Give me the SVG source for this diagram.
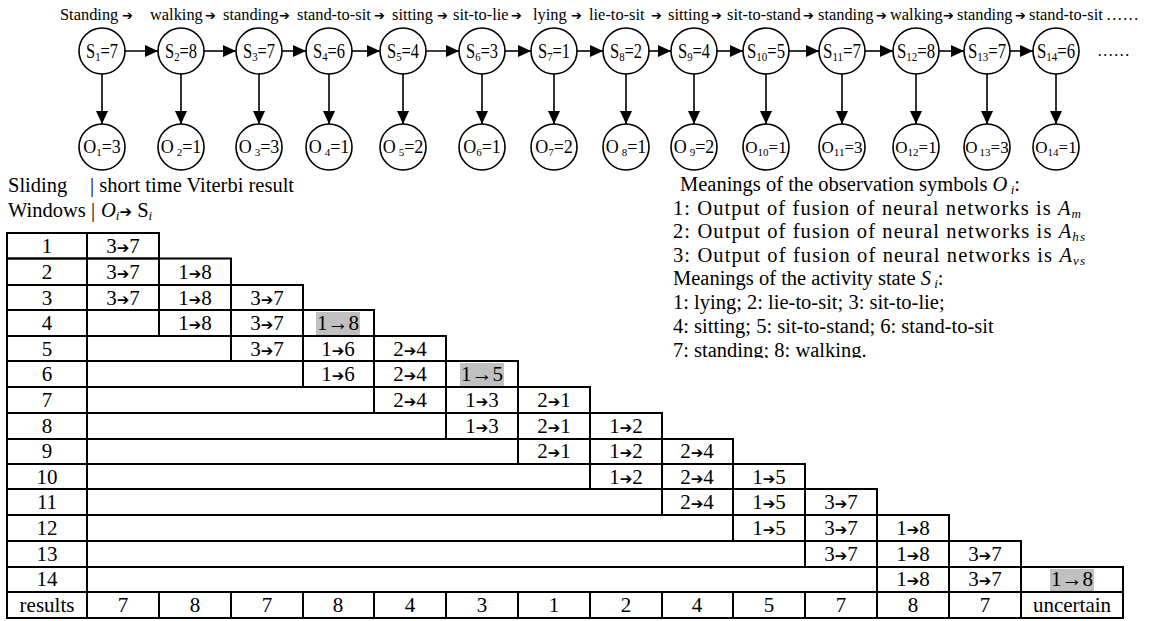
<svg xmlns="http://www.w3.org/2000/svg" width="1165" height="621" viewBox="0 0 1165 621">
<style>
text{font-family:"Liberation Serif","Times New Roman",serif;fill:#000}
.top{font-size:16.4px}
.ar{font-family:"DejaVu Sans",sans-serif;font-size:13px}
.tar{font-family:"DejaVu Sans",sans-serif;font-size:15px}
.node circle{fill:#fff;stroke:#000;stroke-width:1.6}
.nl{font-size:20px;text-anchor:middle}
.ol{font-size:18px;text-anchor:middle}
.ol2{font-size:17px;text-anchor:middle}
.sub{font-size:13px}
.sub2{font-size:11px}
.edge{stroke:#000;stroke-width:1.6;fill:none}
.tb{fill:none;stroke:#000;stroke-width:2}
.tl{stroke:#000;stroke-width:2}
.tt{font-size:21px;text-anchor:middle}
.lg{font-size:20.5px}
.hl{fill:#c0c0c0}
.it{font-style:italic}
.ls{font-size:13px}
</style>
<defs>
<marker id="ah" markerWidth="13" markerHeight="12" refX="13" refY="6" orient="auto" markerUnits="userSpaceOnUse"><path d="M0,0 L13,6 L0,12 z" fill="#000"/></marker>
<clipPath id="lgclip"><rect x="600" y="160" width="565" height="198"/></clipPath>
</defs>

<text class="top" y="20"><tspan x="60">Standing</tspan><tspan class="ar" x="122">➔</tspan><tspan x="150">walking</tspan><tspan class="ar" x="205">➔</tspan><tspan x="223">standing</tspan><tspan class="ar" x="279">➔</tspan><tspan x="297">stand-to-sit</tspan><tspan class="ar" x="374">➔</tspan><tspan x="392">sitting</tspan><tspan class="ar" x="437">➔</tspan><tspan x="453">sit-to-lie</tspan><tspan class="ar" x="511">➔</tspan><tspan x="533">lying</tspan><tspan class="ar" x="571">➔</tspan><tspan x="589">lie-to-sit</tspan><tspan class="ar" x="651">➔</tspan><tspan x="668">sitting</tspan><tspan class="ar" x="711">➔</tspan><tspan x="727">sit-to-stand</tspan><tspan class="ar" x="803">➔</tspan><tspan x="818">standing</tspan><tspan class="ar" x="876">➔</tspan><tspan x="890">walking</tspan><tspan class="ar" x="943">➔</tspan><tspan x="957">standing</tspan><tspan class="ar" x="1015">➔</tspan><tspan x="1029">stand-to-sit</tspan><tspan x="1106">……</tspan></text>

<g id="connectors">
<line class="edge" x1="125" y1="51" x2="158" y2="51" marker-end="url(#ah)"/>
<line class="edge" x1="204" y1="51" x2="236" y2="51" marker-end="url(#ah)"/>
<line class="edge" x1="282" y1="51" x2="306" y2="51" marker-end="url(#ah)"/>
<line class="edge" x1="352" y1="51" x2="380" y2="51" marker-end="url(#ah)"/>
<line class="edge" x1="426" y1="51" x2="459" y2="51" marker-end="url(#ah)"/>
<line class="edge" x1="505" y1="51" x2="531" y2="51" marker-end="url(#ah)"/>
<line class="edge" x1="577" y1="51" x2="603" y2="51" marker-end="url(#ah)"/>
<line class="edge" x1="649" y1="51" x2="671" y2="51" marker-end="url(#ah)"/>
<line class="edge" x1="717" y1="51" x2="743" y2="51" marker-end="url(#ah)"/>
<line class="edge" x1="789" y1="51" x2="819" y2="51" marker-end="url(#ah)"/>
<line class="edge" x1="865" y1="51" x2="893" y2="51" marker-end="url(#ah)"/>
<line class="edge" x1="939" y1="51" x2="964" y2="51" marker-end="url(#ah)"/>
<line class="edge" x1="1010" y1="51" x2="1033" y2="51" marker-end="url(#ah)"/>
<line class="edge" x1="102" y1="74" x2="102" y2="124" marker-end="url(#ah)"/>
<line class="edge" x1="181" y1="74" x2="181" y2="124" marker-end="url(#ah)"/>
<line class="edge" x1="259" y1="74" x2="259" y2="124" marker-end="url(#ah)"/>
<line class="edge" x1="329" y1="74" x2="329" y2="124" marker-end="url(#ah)"/>
<line class="edge" x1="403" y1="74" x2="403" y2="124" marker-end="url(#ah)"/>
<line class="edge" x1="482" y1="74" x2="482" y2="124" marker-end="url(#ah)"/>
<line class="edge" x1="554" y1="74" x2="554" y2="124" marker-end="url(#ah)"/>
<line class="edge" x1="626" y1="74" x2="626" y2="124" marker-end="url(#ah)"/>
<line class="edge" x1="694" y1="74" x2="694" y2="124" marker-end="url(#ah)"/>
<line class="edge" x1="766" y1="74" x2="766" y2="124" marker-end="url(#ah)"/>
<line class="edge" x1="842" y1="74" x2="842" y2="124" marker-end="url(#ah)"/>
<line class="edge" x1="916" y1="74" x2="916" y2="124" marker-end="url(#ah)"/>
<line class="edge" x1="987" y1="74" x2="987" y2="124" marker-end="url(#ah)"/>
<line class="edge" x1="1056" y1="74" x2="1056" y2="124" marker-end="url(#ah)"/>
</g>

<g id="s1" class="node"><circle cx="102" cy="51" r="23"/><text class="nl" x="102" y="58" textLength="32" lengthAdjust="spacingAndGlyphs">S<tspan class="sub" dy="3">1</tspan><tspan dy="-3">=7</tspan></text></g>
<g id="s2" class="node"><circle cx="181" cy="51" r="23"/><text class="nl" x="181" y="58" textLength="32" lengthAdjust="spacingAndGlyphs">S<tspan class="sub" dy="3">2</tspan><tspan dy="-3">=8</tspan></text></g>
<g id="s3" class="node"><circle cx="259" cy="51" r="23"/><text class="nl" x="259" y="58" textLength="32" lengthAdjust="spacingAndGlyphs">S<tspan class="sub" dy="3">3</tspan><tspan dy="-3">=7</tspan></text></g>
<g id="s4" class="node"><circle cx="329" cy="51" r="23"/><text class="nl" x="329" y="58" textLength="32" lengthAdjust="spacingAndGlyphs">S<tspan class="sub" dy="3">4</tspan><tspan dy="-3">=6</tspan></text></g>
<g id="s5" class="node"><circle cx="403" cy="51" r="23"/><text class="nl" x="403" y="58" textLength="32" lengthAdjust="spacingAndGlyphs">S<tspan class="sub" dy="3">5</tspan><tspan dy="-3">=4</tspan></text></g>
<g id="s6" class="node"><circle cx="482" cy="51" r="23"/><text class="nl" x="482" y="58" textLength="32" lengthAdjust="spacingAndGlyphs">S<tspan class="sub" dy="3">6</tspan><tspan dy="-3">=3</tspan></text></g>
<g id="s7" class="node"><circle cx="554" cy="51" r="23"/><text class="nl" x="554" y="58" textLength="32" lengthAdjust="spacingAndGlyphs">S<tspan class="sub" dy="3">7</tspan><tspan dy="-3">=1</tspan></text></g>
<g id="s8" class="node"><circle cx="626" cy="51" r="23"/><text class="nl" x="626" y="58" textLength="32" lengthAdjust="spacingAndGlyphs">S<tspan class="sub" dy="3">8</tspan><tspan dy="-3">=2</tspan></text></g>
<g id="s9" class="node"><circle cx="694" cy="51" r="23"/><text class="nl" x="694" y="58" textLength="32" lengthAdjust="spacingAndGlyphs">S<tspan class="sub" dy="3">9</tspan><tspan dy="-3">=4</tspan></text></g>
<g id="s10" class="node"><circle cx="766" cy="51" r="23"/><text class="nl" x="766" y="58" textLength="38" lengthAdjust="spacingAndGlyphs">S<tspan class="sub" dy="3">10</tspan><tspan dy="-3">=5</tspan></text></g>
<g id="s11" class="node"><circle cx="842" cy="51" r="23"/><text class="nl" x="842" y="58" textLength="38" lengthAdjust="spacingAndGlyphs">S<tspan class="sub" dy="3">11</tspan><tspan dy="-3">=7</tspan></text></g>
<g id="s12" class="node"><circle cx="916" cy="51" r="23"/><text class="nl" x="916" y="58" textLength="38" lengthAdjust="spacingAndGlyphs">S<tspan class="sub" dy="3">12</tspan><tspan dy="-3">=8</tspan></text></g>
<g id="s13" class="node"><circle cx="987" cy="51" r="23"/><text class="nl" x="987" y="58" textLength="38" lengthAdjust="spacingAndGlyphs">S<tspan class="sub" dy="3">13</tspan><tspan dy="-3">=7</tspan></text></g>
<g id="s14" class="node"><circle cx="1056" cy="51" r="23"/><text class="nl" x="1056" y="58" textLength="38" lengthAdjust="spacingAndGlyphs">S<tspan class="sub" dy="3">14</tspan><tspan dy="-3">=6</tspan></text></g>
<text class="top" x="1097" y="56">……</text>

<g id="o1" class="node"><circle cx="102" cy="147" r="23"/><text class="ol" x="102" y="153">O<tspan class="sub2" dy="3">1</tspan><tspan dy="-3">=3</tspan></text></g>
<g id="o2" class="node"><circle cx="181" cy="147" r="23"/><text class="ol" x="181" y="153">O<tspan class="sub2" dx="3" dy="3">2</tspan><tspan dy="-3">=1</tspan></text></g>
<g id="o3" class="node"><circle cx="259" cy="147" r="23"/><text class="ol" x="259" y="153">O<tspan class="sub2" dx="3" dy="3">3</tspan><tspan dy="-3">=3</tspan></text></g>
<g id="o4" class="node"><circle cx="329" cy="147" r="23"/><text class="ol" x="329" y="153">O<tspan class="sub2" dx="3" dy="3">4</tspan><tspan dy="-3">=1</tspan></text></g>
<g id="o5" class="node"><circle cx="403" cy="147" r="23"/><text class="ol" x="403" y="153">O<tspan class="sub2" dx="3" dy="3">5</tspan><tspan dy="-3">=2</tspan></text></g>
<g id="o6" class="node"><circle cx="482" cy="147" r="23"/><text class="ol" x="482" y="153">O<tspan class="sub2" dy="3">6</tspan><tspan dy="-3">=1</tspan></text></g>
<g id="o7" class="node"><circle cx="554" cy="147" r="23"/><text class="ol" x="554" y="153">O<tspan class="sub2" dy="3">7</tspan><tspan dy="-3">=2</tspan></text></g>
<g id="o8" class="node"><circle cx="626" cy="147" r="23"/><text class="ol" x="626" y="153">O<tspan class="sub2" dx="3" dy="3">8</tspan><tspan dy="-3">=1</tspan></text></g>
<g id="o9" class="node"><circle cx="694" cy="147" r="23"/><text class="ol" x="694" y="153">O<tspan class="sub2" dx="3" dy="3">9</tspan><tspan dy="-3">=2</tspan></text></g>
<g id="o10" class="node"><circle cx="766" cy="147" r="23"/><text class="ol2" x="766" y="153">O<tspan class="sub2" dy="3">10</tspan><tspan dy="-3">=1</tspan></text></g>
<g id="o11" class="node"><circle cx="842" cy="147" r="23"/><text class="ol2" x="842" y="153">O<tspan class="sub2" dy="3">11</tspan><tspan dy="-3">=3</tspan></text></g>
<g id="o12" class="node"><circle cx="916" cy="147" r="23"/><text class="ol2" x="916" y="153">O<tspan class="sub2" dy="3">12</tspan><tspan dy="-3">=1</tspan></text></g>
<g id="o13" class="node"><circle cx="987" cy="147" r="23"/><text class="ol2" x="987" y="153">O<tspan class="sub2" dx="2" dy="3">13</tspan><tspan dy="-3">=3</tspan></text></g>
<g id="o14" class="node"><circle cx="1056" cy="147" r="23"/><text class="ol2" x="1056" y="153">O<tspan class="sub2" dy="3">14</tspan><tspan dy="-3">=1</tspan></text></g>

<g id="header">
<text class="lg" x="8" y="192">Sliding</text>
<text class="lg" x="90" y="192">| short time Viterbi result</text>
<text class="lg" x="8" y="217">Windows |<tspan class="it" x="101">O</tspan><tspan class="it ls" dy="3">i</tspan><tspan class="tar" dy="-3">➔</tspan><tspan> S</tspan><tspan class="it ls" dy="3">i</tspan></text>
</g>

<g id="legend" clip-path="url(#lgclip)">
<text class="lg" x="680" y="191">Meanings of the observation symbols <tspan class="it">O</tspan><tspan class="it ls" dy="3"> i</tspan><tspan dy="-3">:</tspan></text>
<text class="lg" x="673" y="214.5" textLength="408" lengthAdjust="spacing">1: Output of fusion of neural networks is <tspan class="it">A</tspan><tspan class="it ls" dy="3">m</tspan></text>
<text class="lg" x="673" y="238" textLength="412" lengthAdjust="spacing">2: Output of fusion of neural networks is <tspan class="it">A</tspan><tspan class="it ls" dy="3">hs</tspan></text>
<text class="lg" x="673" y="261.5" textLength="412" lengthAdjust="spacing">3: Output of fusion of neural networks is <tspan class="it">A</tspan><tspan class="it ls" dy="3">vs</tspan></text>
<text class="lg" x="673" y="285">Meanings of the activity state <tspan class="it">S</tspan><tspan class="it ls" dy="3"> i</tspan><tspan dy="-3">:</tspan></text>
<text class="lg" x="673" y="309">1: lying; 2: lie-to-sit; 3: sit-to-lie;</text>
<text class="lg" x="673" y="333">4: sitting; 5: sit-to-stand; 6: stand-to-sit</text>
<text class="lg" x="673" y="357">7: standing; 8: walking.</text>
</g>

<g id="table">
<rect class="hl" x="316" y="312" width="44" height="23"/>
<rect class="hl" x="460" y="363" width="44" height="23"/>
<rect class="hl" x="1050" y="569" width="44" height="22"/>

<rect class="tb" x="7" y="233" width="152" height="25.5"/>
<line class="tl" x1="87" y1="233" x2="87" y2="618"/>
<rect class="tb" x="7" y="258.5" width="224" height="26.5"/>
<line class="tl" x1="159" y1="258.5" x2="159" y2="285"/>
<rect class="tb" x="7" y="285" width="296" height="25"/>
<line class="tl" x1="159" y1="285" x2="159" y2="336"/>
<line class="tl" x1="231" y1="285" x2="231" y2="361"/>
<rect class="tb" x="7" y="310" width="367" height="26"/>
<line class="tl" x1="303" y1="310" x2="303" y2="387"/>
<rect class="tb" x="7" y="336" width="439" height="25"/>
<line class="tl" x1="374" y1="336" x2="374" y2="413"/>
<rect class="tb" x="7" y="361" width="511" height="26"/>
<line class="tl" x1="446" y1="361" x2="446" y2="439"/>
<rect class="tb" x="7" y="387" width="583" height="26"/>
<line class="tl" x1="518" y1="387" x2="518" y2="464"/>
<rect class="tb" x="7" y="413" width="655" height="26"/>
<line class="tl" x1="590" y1="413" x2="590" y2="489"/>
<rect class="tb" x="7" y="439" width="726" height="25"/>
<line class="tl" x1="662" y1="439" x2="662" y2="515"/>
<rect class="tb" x="7" y="464" width="798" height="25"/>
<line class="tl" x1="733" y1="464" x2="733" y2="541"/>
<rect class="tb" x="7" y="489" width="870" height="26"/>
<line class="tl" x1="805" y1="489" x2="805" y2="567"/>
<rect class="tb" x="7" y="515" width="942" height="26"/>
<line class="tl" x1="877" y1="515" x2="877" y2="592"/>
<rect class="tb" x="7" y="541" width="1014" height="26"/>
<line class="tl" x1="949" y1="541" x2="949" y2="592"/>
<rect class="tb" x="7" y="567" width="1116" height="25"/>
<line class="tl" x1="1021" y1="567" x2="1021" y2="592"/>
<rect class="tb" x="7" y="592" width="1116" height="26"/>
<line class="tl" x1="159" y1="592" x2="159" y2="618"/>
<line class="tl" x1="231" y1="592" x2="231" y2="618"/>
<line class="tl" x1="303" y1="592" x2="303" y2="618"/>
<line class="tl" x1="374" y1="592" x2="374" y2="618"/>
<line class="tl" x1="446" y1="592" x2="446" y2="618"/>
<line class="tl" x1="518" y1="592" x2="518" y2="618"/>
<line class="tl" x1="590" y1="592" x2="590" y2="618"/>
<line class="tl" x1="662" y1="592" x2="662" y2="618"/>
<line class="tl" x1="733" y1="592" x2="733" y2="618"/>
<line class="tl" x1="805" y1="592" x2="805" y2="618"/>
<line class="tl" x1="877" y1="592" x2="877" y2="618"/>
<line class="tl" x1="949" y1="592" x2="949" y2="618"/>
<line class="tl" x1="1021" y1="592" x2="1021" y2="618"/>

<text class="tt" x="47" y="253">1</text>
<text class="tt" x="123" y="253">3<tspan class="tar">➔</tspan>7</text>
<text class="tt" x="47" y="279">2</text>
<text class="tt" x="123" y="279">3<tspan class="tar">➔</tspan>7</text>
<text class="tt" x="195" y="279">1<tspan class="tar">➔</tspan>8</text>
<text class="tt" x="47" y="305">3</text>
<text class="tt" x="123" y="305">3<tspan class="tar">➔</tspan>7</text>
<text class="tt" x="195" y="305">1<tspan class="tar">➔</tspan>8</text>
<text class="tt" x="267" y="305">3<tspan class="tar">➔</tspan>7</text>
<text class="tt" x="47" y="330">4</text>
<text class="tt" x="195" y="330">1<tspan class="tar">➔</tspan>8</text>
<text class="tt" x="267" y="330">3<tspan class="tar">➔</tspan>7</text>
<text class="tt" x="338" y="330">1→8</text>
<text class="tt" x="47" y="356">5</text>
<text class="tt" x="267" y="356">3<tspan class="tar">➔</tspan>7</text>
<text class="tt" x="338" y="356">1<tspan class="tar">➔</tspan>6</text>
<text class="tt" x="410" y="356">2<tspan class="tar">➔</tspan>4</text>
<text class="tt" x="47" y="381">6</text>
<text class="tt" x="338" y="381">1<tspan class="tar">➔</tspan>6</text>
<text class="tt" x="410" y="381">2<tspan class="tar">➔</tspan>4</text>
<text class="tt" x="482" y="381">1→5</text>
<text class="tt" x="47" y="407">7</text>
<text class="tt" x="410" y="407">2<tspan class="tar">➔</tspan>4</text>
<text class="tt" x="482" y="407">1<tspan class="tar">➔</tspan>3</text>
<text class="tt" x="554" y="407">2<tspan class="tar">➔</tspan>1</text>
<text class="tt" x="47" y="433">8</text>
<text class="tt" x="482" y="433">1<tspan class="tar">➔</tspan>3</text>
<text class="tt" x="554" y="433">2<tspan class="tar">➔</tspan>1</text>
<text class="tt" x="626" y="433">1<tspan class="tar">➔</tspan>2</text>
<text class="tt" x="47" y="458">9</text>
<text class="tt" x="554" y="458">2<tspan class="tar">➔</tspan>1</text>
<text class="tt" x="626" y="458">1<tspan class="tar">➔</tspan>2</text>
<text class="tt" x="697" y="458">2<tspan class="tar">➔</tspan>4</text>
<text class="tt" x="47" y="484">10</text>
<text class="tt" x="626" y="484">1<tspan class="tar">➔</tspan>2</text>
<text class="tt" x="697" y="484">2<tspan class="tar">➔</tspan>4</text>
<text class="tt" x="769" y="484">1<tspan class="tar">➔</tspan>5</text>
<text class="tt" x="47" y="509">11</text>
<text class="tt" x="697" y="509">2<tspan class="tar">➔</tspan>4</text>
<text class="tt" x="769" y="509">1<tspan class="tar">➔</tspan>5</text>
<text class="tt" x="841" y="509">3<tspan class="tar">➔</tspan>7</text>
<text class="tt" x="47" y="535">12</text>
<text class="tt" x="769" y="535">1<tspan class="tar">➔</tspan>5</text>
<text class="tt" x="841" y="535">3<tspan class="tar">➔</tspan>7</text>
<text class="tt" x="913" y="535">1<tspan class="tar">➔</tspan>8</text>
<text class="tt" x="47" y="561">13</text>
<text class="tt" x="841" y="561">3<tspan class="tar">➔</tspan>7</text>
<text class="tt" x="913" y="561">1<tspan class="tar">➔</tspan>8</text>
<text class="tt" x="985" y="561">3<tspan class="tar">➔</tspan>7</text>
<text class="tt" x="47" y="586">14</text>
<text class="tt" x="913" y="586">1<tspan class="tar">➔</tspan>8</text>
<text class="tt" x="985" y="586">3<tspan class="tar">➔</tspan>7</text>
<text class="tt" x="1072" y="586">1→8</text>
<text class="tt" x="47" y="612">results</text>
<text class="tt" x="123" y="612">7</text>
<text class="tt" x="195" y="612">8</text>
<text class="tt" x="267" y="612">7</text>
<text class="tt" x="338" y="612">8</text>
<text class="tt" x="410" y="612">4</text>
<text class="tt" x="482" y="612">3</text>
<text class="tt" x="554" y="612">1</text>
<text class="tt" x="626" y="612">2</text>
<text class="tt" x="697" y="612">4</text>
<text class="tt" x="769" y="612">5</text>
<text class="tt" x="841" y="612">7</text>
<text class="tt" x="913" y="612">8</text>
<text class="tt" x="985" y="612">7</text>
<text class="tt" x="1072" y="612">uncertain</text>
</g>
</svg>
